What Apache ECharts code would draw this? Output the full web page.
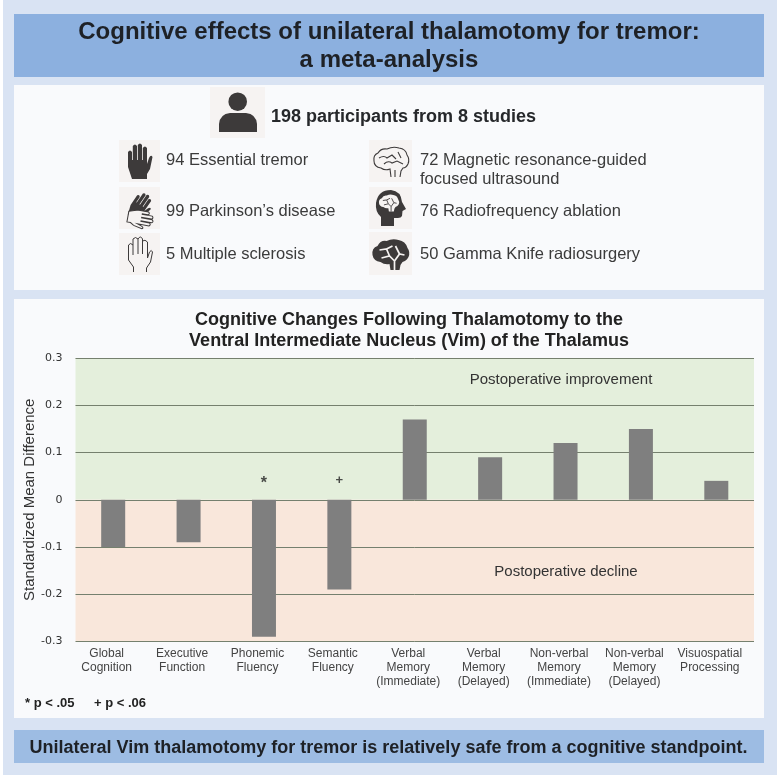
<!DOCTYPE html>
<html><head><meta charset="utf-8">
<style>html,body{margin:0;padding:0;background:#fff}#c{width:777px;height:775px}</style>
<script src="https://cdn.jsdelivr.net/npm/echarts@6/dist/echarts.min.js"></script>
</head><body><div id="c"></div>
<script>
const categories = ['Global\nCognition','Executive\nFunction','Phonemic\nFluency','Semantic\nFluency','Verbal\nMemory\n(Immediate)','Verbal\nMemory\n(Delayed)','Non-verbal\nMemory\n(Immediate)','Non-verbal\nMemory\n(Delayed)','Visuospatial\nProcessing'];
const smd = [-0.10,-0.09,-0.29,-0.19,0.17,0.09,0.12,0.15,0.04];
const markers = [['Phonemic\nFluency',0.04,'*'],['Semantic\nFluency',0.04,'+']];
const yTicks = {min:-0.3,max:0.3,interval:0.1};
const F = '"Liberation Sans",Arial,sans-serif';
const DARK='#3d3a3a';
const PANEL='#f9fafc', TILE='#f6f3f2';

let shapeId=0; const shapeNames={};
function shapeFor(d){ if(!shapeNames[d]){const n='icon'+(shapeId++); echarts.graphic.registerShape(n,echarts.graphic.extendPath(d,{})); shapeNames[d]=n;} return shapeNames[d]; }

function rect(x,y,w,h,fill){return {type:'rect',silent:true,shape:{x,y,width:w,height:h},style:{fill}};}
function txt(x,y,t,size,o){o=o||{};return {type:'text',silent:true,x,y,z:5,style:{text:t,font:(o.bold?'bold ':'')+size+'px '+F,fill:o.fill||'#333',textAlign:o.align||'left',textVerticalAlign:'middle'}};}
function path(d,x,y,s,fill,stroke,lw,rot){return {type:shapeFor(d),silent:true,x,y,scaleX:s,scaleY:s,rotation:rot||0,style:{fill:fill||'none',stroke:stroke||'none',lineWidth:lw||0}};}

const solidHand='M5 36 L1 24 L1 9 Q3 6 5 9 L5 17 L5.8 17 L5.8 3 Q8 0 10 3 L10 17 L10.8 17 L10.8 2 Q13 -1 15 2 L15 17 L15.8 17 L15.8 5 Q18 2 20 5 L20 21 L22 15 Q24 11 25.5 14 L23 26 L20 31 L20 36 Z';
const outlineHand='M6 36 L6 31 L1 24 L1 9 Q3 6 5.5 9 L5.5 19 M5.5 9 L5.5 3 Q8 0 10.5 3 L10.5 18 M10.5 3 Q13 -1 15 3 L15 18 M15 5 Q17.5 3 20 6 L20 22 L22 16 Q24 13 25 16 L23 26 L19 32 L19 36';
const brainOutline='M18 30 L17 22 Q12 24 8 21 Q1 20 1 14 Q0 8 5 6 Q8 1 14 2 Q20 -1 26 1 Q33 2 34 8 Q37 12 35 17 Q33 21 30 21 L28 24 L27 30 M22 30 L22 23 M6 11 Q11 8 14 11 L19 8 L23 12 M11 17 Q15 13 19 16 L24 14 L30 17 M25 5 L28 11';
const brainSolid='M18 30 L17 24 Q12 25 8 22 Q1 21 0 15 Q-1 8 5 6 Q8 0 14 1 Q20 -2 26 0 Q33 1 35 8 Q38 12 36 17 Q34 21 30 22 L28 25 L27 30 Z';
const headSolid='M5 36 L5 27 Q-1 22 0 13 Q2 0 15 0 Q25 1 26 12 L30 19 L26.5 21 L26 26 Q25 28 22 28 L18 28 L18 36 Z';
const crumbs='M22 30 L22 21 L17 16 L9 18 M17 16 L14 9 L7 10 M22 21 L27 14 L32 15 M27 14 L23 6 M14 9 L20 6';
const body='M0 19 L0 11 Q1 1 11 0 L27 0 Q37 1 38 11 L38 19 Z';

const g=[
 rect(3,0,774,775,'#d9e3f3'),
 rect(14,14,750,63,'#8cb0df'),
 rect(14,85,750,205,PANEL),
 rect(14,299,750,419,PANEL),
 rect(14,730,750,33,'#9dbce3'),
 rect(210,87,55,51,TILE),rect(119,140,41,42,TILE),rect(119,187,41,42,TILE),rect(119,233,41,42,TILE),
 rect(369,140,43,42,TILE),rect(369,187,43,42,TILE),rect(369,232,43,43,TILE)
].map(e=>Object.assign(e,{z:-20}));
const icons=[
 {type:'circle',silent:true,shape:{cx:237.7,cy:101.7,r:9.3},style:{fill:DARK}},
 path(body,219,113,1,DARK),
 path(solidHand,127,143,1,DARK),
 path(solidHand,140.5,189,0.78,DARK,null,0,-0.6),
 path(solidHand,155,212.4,0.72,TILE,DARK,1.4,-1.75),
 path(outlineHand,127.5,236,1,null,DARK,1),
 path(brainOutline,373,147,1,null,DARK,1.1),
 path(headSolid,376,190,1,DARK),
 path(brainSolid,379,195,0.55,TILE),
 path(crumbs,379,195,0.55,null,DARK,1.6),
 path(brainSolid,372.5,240,1,DARK),
 path(crumbs,372.5,240,1,null,TILE,1.7)
];
const texts=[
 txt(389,32,'Cognitive effects of unilateral thalamotomy for tremor:',24,{bold:1,align:'center',fill:'#1e2126'}),
 txt(389,60,'a meta-analysis',24,{bold:1,align:'center',fill:'#1e2126'}),
 txt(271,117,'198 participants from 8 studies',18,{bold:1,fill:'#26282b'}),
 txt(166,160,'94 Essential tremor',16.5,{fill:'#3b3b3b'}),
 txt(166,211,'99 Parkinson\u2019s disease',16.5,{fill:'#3b3b3b'}),
 txt(166,254,'5 Multiple sclerosis',16.5,{fill:'#3b3b3b'}),
 txt(420,160,'72 Magnetic resonance-guided',16.5,{fill:'#3b3b3b'}),
 txt(420,179,'focused ultrasound',16.5,{fill:'#3b3b3b'}),
 txt(420,211,'76 Radiofrequency ablation',16.5,{fill:'#3b3b3b'}),
 txt(420,254,'50 Gamma Knife radiosurgery',16.5,{fill:'#3b3b3b'}),
 txt(409,320,'Cognitive Changes Following Thalamotomy to the',18,{bold:1,align:'center',fill:'#222'}),
 txt(409,341,'Ventral Intermediate Nucleus (Vim) of the Thalamus',18,{bold:1,align:'center',fill:'#222'}),
 txt(25,703,'* p < .05',13,{bold:1,fill:'#222'}),
 txt(94,703,'+ p < .06',13,{bold:1,fill:'#222'}),
 txt(388.5,748,'Unilateral Vim thalamotomy for tremor is relatively safe from a cognitive standpoint.',18,{bold:1,align:'center',fill:'#1e2126'}),
 txt(561,380,'Postoperative improvement',15,{align:'center'}),
 txt(566,572,'Postoperative decline',15,{align:'center'})
];

const chart=echarts.init(document.getElementById('c'),null,{renderer:'canvas'});
chart.setOption({
 animation:false,
 backgroundColor:'#fff',
 graphic:{elements:g.concat(icons,texts)},
 grid:{left:75.5,right:23,top:358,height:283.5},
 xAxis:{type:'category',data:categories,axisTick:{show:false},
  axisLine:{show:false},
  axisLabel:{interval:0,color:'#444',fontFamily:F,fontSize:12,lineHeight:14,margin:5,padding:[0,13,0,0]}},
 yAxis:{type:'value',min:yTicks.min,max:yTicks.max,interval:yTicks.interval,z:2,
  name:'Standardized Mean Difference',nameLocation:'middle',nameGap:38,nameMoveOverlap:false,nameTextStyle:{color:'#333',fontFamily:F,fontSize:15},
  axisLine:{show:false},axisTick:{show:false},
  axisLabel:{color:'#333',fontFamily:'"DejaVu Sans",sans-serif',fontSize:11,margin:13,formatter:v=>{const r=Math.round(v*10)/10;return r===0?'0':r.toFixed(1)}},
  splitLine:{show:true,lineStyle:{color:'#75806e',width:1}}},
 series:[
  {type:'bar',data:smd,barWidth:24,itemStyle:{color:'#7f7f7f'},z:3,
   markArea:{silent:true,z:1,data:[
    [{yAxis:0,itemStyle:{color:'#e4efdc'}},{yAxis:0.3}],
    [{yAxis:-0.3,itemStyle:{color:'#f9e7db'}},{yAxis:0}]
   ]}},
  {type:'scatter',symbolSize:0,data:markers.map(m=>({value:[m[0],m[1]],name:m[2],label:{fontSize:m[2]==='+'?13:16,offset:[0,m[2]==='*'?3:0]}})),z:4,
   label:{show:true,position:'inside',formatter:p=>p.name,color:'#222',fontFamily:F,fontWeight:'bold'}}
 ]
});
</script></body></html>
